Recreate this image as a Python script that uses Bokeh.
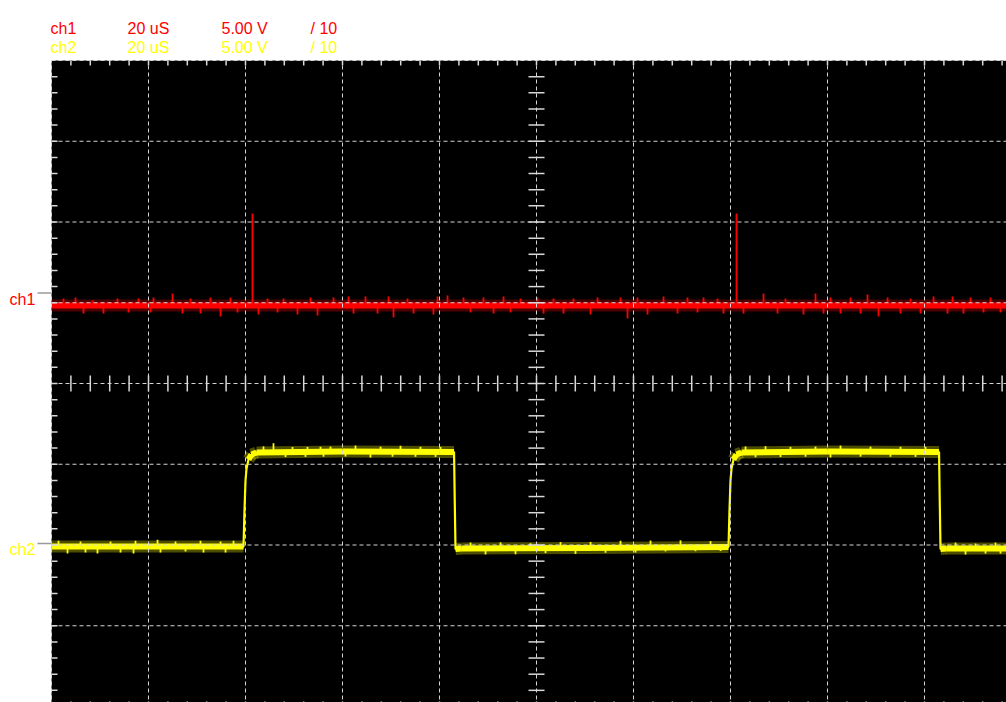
import numpy as np
from bokeh.plotting import figure
from bokeh.models import Range1d
from bokeh.core.properties import value
from bokeh.embed import file_html
from bokeh.resources import INLINE

channels = ["ch1", "ch2"]
timebase = ["20 uS", "20 uS"]
vscale = ["5.00 V", "5.00 V"]
probe = ["/ 10", "/ 10"]
ch_colors = ["#ff0000", "#ffff00"]

ch1_offset = 5.6     # V, ground marker of ch1
ch2_offset = -9.9    # V, ground marker of ch2

# ch1: flat noisy baseline (µs, V relative to ch1 ground)
ch1_t = [0.0, 197.0]
ch1_v = [-0.77, -0.77]
ch1_up_t = [2.47, 4.95, 8.45, 13.61, 17.94, 21.03, 24.95, 28.66, 32.78, 36.91,
            41.44, 44.54, 47.84, 53.40, 58.15, 61.24, 64.74, 69.49, 73.40, 79.59,
            81.65, 84.95, 89.07, 93.20, 96.70, 100.21, 103.51, 107.63, 112.58, 117.32,
            120.82, 126.19, 131.13, 134.43, 137.32, 141.24, 146.81, 151.34, 157.53, 160.62,
            164.75, 168.25, 172.38, 177.12, 181.86, 185.78, 189.49, 193.61]
ch1_up_dv = [0.43, 0.50, 0.31, 0.43, 0.43, 0.50, 0.74, 0.43, 0.50, 0.50,
             5.70, 0.43, 0.43, 0.50, 0.50, 0.56, 0.56, 0.56, 0.43, 0.56,
             0.62, 0.50, 0.50, 0.56, 0.43, 0.50, 0.43, 0.43, 0.50, 0.50,
             0.50, 0.56, 0.50, 0.50, 0.43, 5.70, 0.74, 0.43, 0.74, 0.50,
             0.50, 0.68, 0.50, 0.43, 0.56, 0.56, 0.50, 0.50]
ch1_dn_t = [6.60, 10.72, 15.88, 20.41, 27.01, 30.72, 34.85, 38.35, 42.68, 46.60,
            50.72, 54.85, 62.27, 67.22, 70.52, 74.64, 78.76, 86.39, 91.14, 94.64,
            101.45, 105.57, 111.14, 118.77, 122.89, 129.07, 133.20, 138.56, 142.68, 149.69,
            155.05, 159.18, 162.68, 166.81, 170.52, 175.05, 179.18, 184.75, 188.04, 192.17,
            195.67]
ch1_dn_dv = [-0.50, -0.50, -0.43, -0.43, -0.50, -0.50, -0.68, -0.43, -0.56, -0.43,
             -0.56, -0.62, -0.50, -0.50, -0.74, -0.50, -0.56, -0.43, -0.50, -0.43,
             -0.50, -0.50, -0.56, -0.80, -0.56, -0.50, -0.43, -0.50, -0.50, -0.50,
             -0.56, -0.50, -0.50, -0.50, -0.68, -0.50, -0.50, -0.50, -0.50, -0.43,
             -0.43]

# ch2: square wave (µs, V relative to ch2 ground)
ch2_t = [0.0, 39.59, 39.79, 40.0, 40.21, 40.62, 41.24, 42.27, 60.0, 83.0,
         83.15, 83.3, 84.5, 110.0, 139.59, 139.79, 140.0, 140.21, 140.62, 141.24,
         142.27, 160.0, 183.0, 183.15, 183.3, 184.5, 197.0]
ch2_v = [-0.20, -0.20, 2.03, 3.89, 4.63, 5.19, 5.50, 5.63, 5.69, 5.66,
         2.5, -0.35, -0.32, -0.28, -0.22, 2.03, 3.89, 4.63, 5.19, 5.50,
         5.63, 5.69, 5.66, 2.5, -0.35, -0.32, -0.32]
ch2_up_t = [1.44, 5.98, 12.17, 17.32, 21.86, 25.57, 30.72, 34.85, 37.53,
            43.71, 45.77, 49.69, 52.78, 55.46, 57.53, 62.68, 67.84, 71.96, 76.08, 80.21,
            86.39, 92.58, 98.76, 104.95, 111.14, 117.32, 123.51, 129.69, 135.88,
            143.10, 147.22, 152.37, 157.53, 162.68, 168.87, 175.05, 180.21,
            186.40, 190.52, 194.64]
ch2_up_dv = [0.37, 0.31, 0.31, 0.37, 0.43, 0.31, 0.37, 0.31, 0.37,
             0.37, 0.56, 0.31, 0.31, 0.31, 0.31, 0.37, 0.31, 0.37, 0.31, 0.31,
             0.37, 0.37, 0.31, 0.37, 0.37, 0.43, 0.43, 0.43, 0.37,
             0.37, 0.37, 0.31, 0.31, 0.37, 0.31, 0.31, 0.31,
             0.37, 0.31, 0.37]
ch2_dn_t = [3.30, 7.01, 9.48, 14.23, 16.91, 22.47, 27.63, 31.34, 35.88,
            48.25, 52.37, 56.08, 60.62, 65.77, 70.31, 75.05, 79.18,
            89.49, 95.67, 101.86, 108.04, 114.23, 120.41, 126.60, 132.78, 137.94,
            145.16, 150.31, 155.47, 160.62, 166.81, 172.99, 178.15,
            188.46, 192.58, 195.67]
ch2_dn_dv = [-0.43, -0.37, -0.43, -0.37, -0.43, -0.37, -0.31, -0.37, -0.37,
             -0.31, -0.31, -0.31, -0.31, -0.37, -0.31, -0.31, -0.31,
             -0.37, -0.37, -0.31, -0.37, -0.31, -0.31, -0.25, -0.25, -0.25,
             -0.31, -0.31, -0.31, -0.37, -0.31, -0.31, -0.31,
             -0.37, -0.31, -0.31]

# ---------------- screen geometry ----------------
US_PER_DIV = 20.0
V_PER_DIV = 5.0
NX, NY = 10, 8
T_END = US_PER_DIV * NX
V_TOP = V_PER_DIV * NY / 2
PX_X = 97 / US_PER_DIV      # px per µs
PX_Y = 80.75 / V_PER_DIV    # px per V
X0_PX, Y0_PX = 51, 383      # page position of t=0, V=0

W, H = 1006, 702
p = figure(width=W, height=H, output_backend="svg", toolbar_location=None,
           x_range=Range1d(-X0_PX / PX_X, (W - X0_PX) / PX_X),
           y_range=Range1d(-(H - Y0_PX) / PX_Y, Y0_PX / PX_Y),
           x_axis_location=None, y_axis_location=None,
           min_border=0, background_fill_color="white",
           border_fill_color="white", outline_line_color=None)
p.grid.visible = False

# black screen
p.quad(left=0, right=T_END, bottom=-V_TOP, top=V_TOP,
       fill_color="black", line_color=None)


def draw_trace(t, v, offset, up_t, up_dv, dn_t, dn_dv, color):
    t = np.asarray(t, float)
    v = np.asarray(v, float) + offset
    flat = np.abs(np.diff(v)) < 0.5
    # faint noise halo around the flat parts
    p.segment(x0=t[:-1][flat], y0=v[:-1][flat], x1=t[1:][flat], y1=v[1:][flat],
              line_color=color, line_alpha=0.3, line_width=12, line_cap="butt")
    # thin full trace (edges)
    p.line(t, v, line_color=color, line_width=2.2)
    # thick noisy band on the flat parts
    p.segment(x0=t[:-1][flat], y0=v[:-1][flat], x1=t[1:][flat], y1=v[1:][flat],
              line_color=color, line_width=6, line_cap="butt")
    # noise spikes
    st = np.concatenate([up_t, dn_t])
    sdv = np.concatenate([up_dv, dn_dv])
    base = np.interp(st, t, v)
    p.segment(x0=st, y0=base, x1=st, y1=base + sdv,
              line_color=color, line_width=1.8)


draw_trace(ch1_t, ch1_v, ch1_offset, ch1_up_t, ch1_up_dv, ch1_dn_t, ch1_dn_dv, ch_colors[0])
draw_trace(ch2_t, ch2_v, ch2_offset, ch2_up_t, ch2_up_dv, ch2_dn_t, ch2_dn_dv, ch_colors[1])

# graticule (dashed), drawn over the traces
GRID = dict(line_color="#d4d4d4", line_width=1, line_dash="4 3")
gx = np.arange(0, T_END, US_PER_DIV)
p.segment(x0=gx, y0=-V_TOP, x1=gx, y1=V_TOP, **GRID)
gy = np.arange(-V_TOP + V_PER_DIV, V_TOP + 0.01, V_PER_DIV)
p.segment(x0=0, y0=gy, x1=T_END, y1=gy, **GRID)

TICK = dict(line_color="#d8d8d8", line_width=1.5)
minor_t = np.arange(US_PER_DIV / 5, T_END, US_PER_DIV / 5)
minor_v = np.arange(-V_TOP + V_PER_DIV / 5, V_TOP, V_PER_DIV / 5)
# top and bottom edge ticks
p.segment(x0=minor_t, y0=V_TOP, x1=minor_t, y1=V_TOP - 5 / PX_Y, **TICK)
p.segment(x0=minor_t, y0=-V_TOP, x1=minor_t, y1=-V_TOP + 5 / PX_Y, **TICK)
# left edge ticks
p.segment(x0=0, y0=minor_v, x1=6 / PX_X, y1=minor_v, **TICK)
# centre cross ticks
p.segment(x0=minor_t, y0=-8 / PX_Y, x1=minor_t, y1=8 / PX_Y, **TICK)
p.segment(x0=T_END / 2 - 8 / PX_X, y0=minor_v, x1=T_END / 2 + 8 / PX_X, y1=minor_v, **TICK)

# header
FONT = value("Liberation Sans")
hx, hy, htxt, hcol = [], [], [], []
col_px = [-1, 76, 170, 259]
for i, name in enumerate(channels):
    row_y = (Y0_PX - (28 + 19 * i)) / PX_Y
    for cx, txt in zip(col_px, [name, timebase[i], vscale[i], probe[i]]):
        hx.append(cx / PX_X)
        hy.append(row_y)
        htxt.append(txt)
        hcol.append(ch_colors[i])
p.text(x=hx, y=hy, text=htxt, text_color=hcol, text_font=FONT,
       text_font_size="16px", text_baseline="alphabetic", text_align="left")

# channel ground markers
offsets = [ch1_offset, ch2_offset]
p.segment(x0=-14 / PX_X, y0=offsets, x1=0, y1=offsets,
          line_color="#9a9a9a", line_width=1.5)
p.text(x=[-42 / PX_X] * 2, y=[o - 6 / PX_Y for o in offsets], text=channels,
       text_color=ch_colors, text_font=FONT, text_font_size="16px",
       text_baseline="alphabetic", text_align="left")

open("out.html", "w").write(file_html(p, INLINE))
